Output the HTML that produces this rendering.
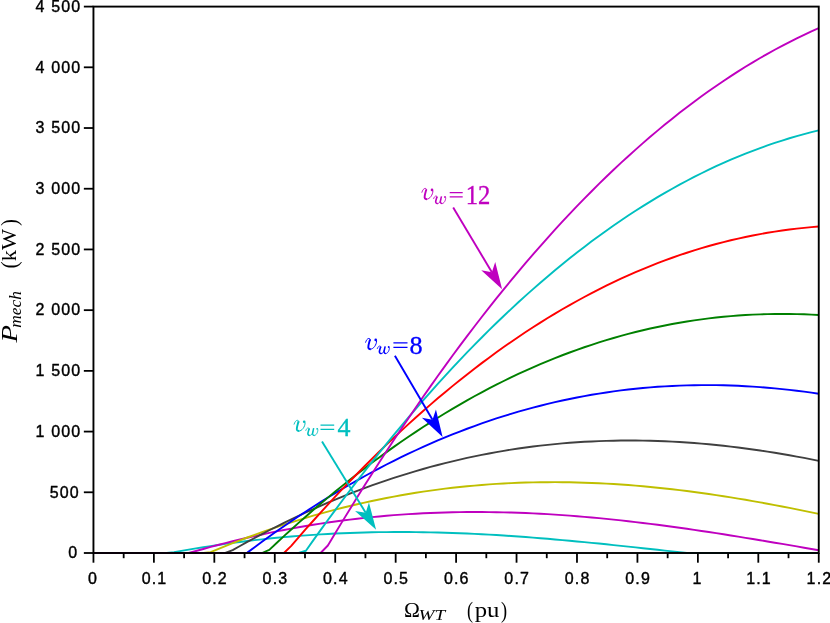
<!DOCTYPE html>
<html><head><meta charset="utf-8"><title>chart</title>
<style>html,body{margin:0;padding:0;background:#fff}svg{display:block;will-change:transform}text{font-family:"Liberation Sans",sans-serif}.s{font-family:"Liberation Serif",serif}</style></head>
<body>
<svg width="830" height="623" viewBox="0 0 830 623">
<rect width="830" height="623" fill="#fff"/>
<defs><g id="vw" fill="none" stroke="currentColor" stroke-linecap="round" stroke-linejoin="round"><path d="M0.2,4.2C0.8,2.1 2,0.3 3.5,0.3C4.6,0.3 5.1,1.1 4.9,2.5" stroke-width="0.9"/><path d="M4.6,1.3C4,4.1 2.7,7.2 2.9,9.2C3.1,10.5 4.1,11.1 5.3,11.1" stroke-width="1.9" stroke-linecap="butt"/><path d="M5.1,11.1C8,11.1 11.2,6.9 11.2,2.9" stroke-width="1.0"/><circle cx="10.3" cy="1.8" r="1.3" fill="currentColor" stroke="none"/><g transform="translate(11.8,7.6)"><path d="M0.1,2.9C0.5,1.6 1.4,0.3 2.5,0.3C3.3,0.3 3.7,0.9 3.6,1.8" stroke-width="0.8"/><path d="M3.5,0.9C3,3 2,5 2.2,6.4C2.4,7.5 3.2,7.9 4.1,7.9" stroke-width="1.6" stroke-linecap="butt"/><path d="M4,7.9C5.6,7.9 6.8,6.3 7.3,4.2" stroke-width="0.9"/><path d="M8,0.6C7.6,2.6 6.7,5 6.9,6.4C7.1,7.6 7.9,7.9 8.7,7.9" stroke-width="1.5" stroke-linecap="butt"/><path d="M8.6,7.9C10.6,7.9 12.2,4.8 12.2,2.2" stroke-width="0.9"/><circle cx="11.5" cy="1.25" r="0.95" fill="currentColor" stroke="none"/></g></g></defs>
<defs><clipPath id="c"><rect x="93.45" y="6.6" width="725.3" height="547.6"/></clipPath></defs>
<g clip-path="url(#c)" fill="none" stroke-linejoin="round" stroke-linecap="butt">
<polyline points="93.45,553.00 100.78,553.00 108.10,553.00 115.43,553.00 122.76,553.00 130.08,553.00 137.41,553.00 144.73,553.00 152.06,553.00 159.39,553.00 166.71,553.00 174.04,552.27 181.37,550.94 188.69,549.65 196.02,548.41 203.34,547.22 210.67,546.07 218.00,544.97 225.32,543.91 232.65,542.90 239.98,541.94 247.30,541.03 254.63,540.16 261.95,539.33 269.28,538.55 276.61,537.82 283.93,537.13 291.26,536.49 298.59,535.89 305.91,535.34 313.24,534.83 320.56,534.36 327.89,533.94 335.22,533.56 342.54,533.22 349.87,532.93 357.20,532.68 364.52,532.47 371.85,532.30 379.17,532.17 386.50,532.08 393.83,532.03 401.15,532.01 408.48,532.04 415.81,532.10 423.13,532.20 430.46,532.34 437.78,532.51 445.11,532.72 452.44,532.96 459.76,533.23 467.09,533.54 474.42,533.88 481.74,534.24 489.07,534.64 496.39,535.07 503.72,535.53 511.05,536.01 518.37,536.52 525.70,537.05 533.03,537.61 540.35,538.20 547.68,538.80 555.00,539.43 562.33,540.08 569.66,540.74 576.98,541.43 584.31,542.13 591.64,542.84 598.96,543.57 606.29,544.32 613.61,545.08 620.94,545.84 628.27,546.62 635.59,547.41 642.92,548.20 650.25,549.00 657.57,549.80 664.90,550.60 672.22,551.41 679.55,552.22 686.88,553.00 694.20,553.00 701.53,553.00 708.86,553.00 716.18,553.00 723.51,553.00 730.83,553.00 738.16,553.00 745.49,553.00 752.81,553.00 760.14,553.00 767.47,553.00 774.79,553.00 782.12,553.00 789.44,553.00 796.77,553.00 804.10,553.00 811.42,553.00 818.75,553.00" stroke="#00bfbf" stroke-width="1.9"/>
<polyline points="93.45,553.00 100.78,553.00 108.10,553.00 115.43,553.00 122.76,553.00 130.08,553.00 137.41,553.00 144.73,553.00 152.06,553.00 159.39,553.00 166.71,553.00 174.04,553.00 181.37,553.00 188.69,553.00 196.02,551.04 203.34,548.97 210.67,546.95 218.00,544.99 225.32,543.09 232.65,541.25 239.98,539.46 247.30,537.73 254.63,536.06 261.95,534.45 269.28,532.90 276.61,531.40 283.93,529.96 291.26,528.58 298.59,527.26 305.91,525.99 313.24,524.78 320.56,523.63 327.89,522.53 335.22,521.49 342.54,520.51 349.87,519.58 357.20,518.71 364.52,517.89 371.85,517.13 379.17,516.43 386.50,515.77 393.83,515.17 401.15,514.63 408.48,514.14 415.81,513.70 423.13,513.31 430.46,512.97 437.78,512.69 445.11,512.45 452.44,512.27 459.76,512.13 467.09,512.05 474.42,512.01 481.74,512.02 489.07,512.08 496.39,512.18 503.72,512.34 511.05,512.53 518.37,512.77 525.70,513.06 533.03,513.39 540.35,513.76 547.68,514.17 555.00,514.62 562.33,515.11 569.66,515.65 576.98,516.22 584.31,516.83 591.64,517.47 598.96,518.16 606.29,518.87 613.61,519.62 620.94,520.41 628.27,521.22 635.59,522.07 642.92,522.95 650.25,523.86 657.57,524.79 664.90,525.75 672.22,526.74 679.55,527.76 686.88,528.79 694.20,529.86 701.53,530.94 708.86,532.04 716.18,533.16 723.51,534.30 730.83,535.46 738.16,536.63 745.49,537.82 752.81,539.02 760.14,540.23 767.47,541.46 774.79,542.69 782.12,543.93 789.44,545.18 796.77,546.43 804.10,547.69 811.42,548.95 818.75,550.21" stroke="#bf00bf" stroke-width="1.9"/>
<polyline points="93.45,553.00 100.78,553.00 108.10,553.00 115.43,553.00 122.76,553.00 130.08,553.00 137.41,553.00 144.73,553.00 152.06,553.00 159.39,553.00 166.71,553.00 174.04,553.00 181.37,553.00 188.69,553.00 196.02,553.00 203.34,553.00 210.67,552.07 218.00,549.02 225.32,546.03 232.65,543.12 239.98,540.28 247.30,537.51 254.63,534.80 261.95,532.17 269.28,529.60 276.61,527.11 283.93,524.68 291.26,522.33 298.59,520.04 305.91,517.83 313.24,515.68 320.56,513.60 327.89,511.59 335.22,509.65 342.54,507.78 349.87,505.98 357.20,504.24 364.52,502.57 371.85,500.98 379.17,499.45 386.50,497.98 393.83,496.59 401.15,495.26 408.48,493.99 415.81,492.80 423.13,491.67 430.46,490.60 437.78,489.61 445.11,488.67 452.44,487.80 459.76,487.00 467.09,486.26 474.42,485.58 481.74,484.96 489.07,484.41 496.39,483.92 503.72,483.49 511.05,483.12 518.37,482.82 525.70,482.57 533.03,482.38 540.35,482.25 547.68,482.18 555.00,482.17 562.33,482.21 569.66,482.31 576.98,482.47 584.31,482.68 591.64,482.95 598.96,483.27 606.29,483.64 613.61,484.07 620.94,484.55 628.27,485.07 635.59,485.65 642.92,486.28 650.25,486.96 657.57,487.68 664.90,488.46 672.22,489.27 679.55,490.14 686.88,491.05 694.20,492.00 701.53,492.99 708.86,494.03 716.18,495.11 723.51,496.22 730.83,497.38 738.16,498.57 745.49,499.80 752.81,501.07 760.14,502.38 767.47,503.71 774.79,505.08 782.12,506.48 789.44,507.92 796.77,509.38 804.10,510.87 811.42,512.39 818.75,513.94" stroke="#bfbf00" stroke-width="1.9"/>
<polyline points="93.45,553.00 100.78,553.00 108.10,553.00 115.43,553.00 122.76,553.00 130.08,553.00 137.41,553.00 144.73,553.00 152.06,553.00 159.39,553.00 166.71,553.00 174.04,553.00 181.37,553.00 188.69,553.00 196.02,553.00 203.34,553.00 210.67,553.00 218.00,553.00 225.32,553.00 232.65,550.12 239.98,545.99 247.30,541.94 254.63,537.97 261.95,534.08 269.28,530.27 276.61,526.54 283.93,522.90 291.26,519.33 298.59,515.85 305.91,512.45 313.24,509.12 320.56,505.88 327.89,502.73 335.22,499.65 342.54,496.65 349.87,493.73 357.20,490.90 364.52,488.14 371.85,485.47 379.17,482.87 386.50,480.36 393.83,477.93 401.15,475.57 408.48,473.30 415.81,471.10 423.13,468.99 430.46,466.95 437.78,464.99 445.11,463.11 452.44,461.31 459.76,459.58 467.09,457.93 474.42,456.36 481.74,454.87 489.07,453.45 496.39,452.11 503.72,450.85 511.05,449.66 518.37,448.54 525.70,447.51 533.03,446.54 540.35,445.65 547.68,444.83 555.00,444.08 562.33,443.41 569.66,442.81 576.98,442.28 584.31,441.82 591.64,441.43 598.96,441.11 606.29,440.86 613.61,440.68 620.94,440.57 628.27,440.52 635.59,440.54 642.92,440.63 650.25,440.78 657.57,441.00 664.90,441.29 672.22,441.63 679.55,442.04 686.88,442.51 694.20,443.05 701.53,443.64 708.86,444.30 716.18,445.01 723.51,445.79 730.83,446.62 738.16,447.50 745.49,448.45 752.81,449.45 760.14,450.51 767.47,451.61 774.79,452.78 782.12,453.99 789.44,455.26 796.77,456.57 804.10,457.94 811.42,459.35 818.75,460.82" stroke="#404040" stroke-width="1.9"/>
<polyline points="93.45,553.00 100.78,553.00 108.10,553.00 115.43,553.00 122.76,553.00 130.08,553.00 137.41,553.00 144.73,553.00 152.06,553.00 159.39,553.00 166.71,553.00 174.04,553.00 181.37,553.00 188.69,553.00 196.02,553.00 203.34,553.00 210.67,553.00 218.00,553.00 225.32,553.00 232.65,553.00 239.98,553.00 247.30,552.62 254.63,547.15 261.95,541.77 269.28,536.49 276.61,531.30 283.93,526.20 291.26,521.19 298.59,516.27 305.91,511.45 313.24,506.72 320.56,502.09 327.89,497.54 335.22,493.09 342.54,488.73 349.87,484.47 357.20,480.30 364.52,476.22 371.85,472.23 379.17,468.34 386.50,464.53 393.83,460.82 401.15,457.21 408.48,453.68 415.81,450.24 423.13,446.90 430.46,443.65 437.78,440.49 445.11,437.42 452.44,434.44 459.76,431.56 467.09,428.76 474.42,426.05 481.74,423.44 489.07,420.91 496.39,418.47 503.72,416.13 511.05,413.87 518.37,411.70 525.70,409.62 533.03,407.62 540.35,405.72 547.68,403.90 555.00,402.16 562.33,400.52 569.66,398.96 576.98,397.48 584.31,396.10 591.64,394.79 598.96,393.57 606.29,392.44 613.61,391.39 620.94,390.42 628.27,389.53 635.59,388.73 642.92,388.01 650.25,387.37 657.57,386.81 664.90,386.33 672.22,385.93 679.55,385.61 686.88,385.37 694.20,385.20 701.53,385.12 708.86,385.10 716.18,385.17 723.51,385.31 730.83,385.53 738.16,385.82 745.49,386.18 752.81,386.62 760.14,387.13 767.47,387.71 774.79,388.36 782.12,389.09 789.44,389.88 796.77,390.74 804.10,391.67 811.42,392.66 818.75,393.72" stroke="#0000ff" stroke-width="1.9"/>
<polyline points="93.45,553.00 100.78,553.00 108.10,553.00 115.43,553.00 122.76,553.00 130.08,553.00 137.41,553.00 144.73,553.00 152.06,553.00 159.39,553.00 166.71,553.00 174.04,553.00 181.37,553.00 188.69,553.00 196.02,553.00 203.34,553.00 210.67,553.00 218.00,553.00 225.32,553.00 232.65,553.00 239.98,553.00 247.30,553.00 254.63,553.00 261.95,553.00 269.28,549.85 276.61,542.96 283.93,536.17 291.26,529.49 298.59,522.91 305.91,516.44 313.24,510.07 320.56,503.80 327.89,497.64 335.22,491.58 342.54,485.63 349.87,479.78 357.20,474.04 364.52,468.40 371.85,462.86 379.17,457.43 386.50,452.11 393.83,446.89 401.15,441.77 408.48,436.75 415.81,431.84 423.13,427.04 430.46,422.34 437.78,417.74 445.11,413.24 452.44,408.85 459.76,404.56 467.09,400.38 474.42,396.29 481.74,392.31 489.07,388.44 496.39,384.66 503.72,380.99 511.05,377.42 518.37,373.95 525.70,370.58 533.03,367.31 540.35,364.15 547.68,361.08 555.00,358.12 562.33,355.25 569.66,352.49 576.98,349.82 584.31,347.25 591.64,344.78 598.96,342.41 606.29,340.14 613.61,337.97 620.94,335.89 628.27,333.91 635.59,332.03 642.92,330.24 650.25,328.55 657.57,326.95 664.90,325.45 672.22,324.04 679.55,322.73 686.88,321.51 694.20,320.39 701.53,319.35 708.86,318.41 716.18,317.56 723.51,316.80 730.83,316.13 738.16,315.55 745.49,315.06 752.81,314.66 760.14,314.35 767.47,314.13 774.79,313.99 782.12,313.94 789.44,313.97 796.77,314.10 804.10,314.30 811.42,314.59 818.75,314.96" stroke="#008000" stroke-width="1.9"/>
<polyline points="93.45,553.00 100.78,553.00 108.10,553.00 115.43,553.00 122.76,553.00 130.08,553.00 137.41,553.00 144.73,553.00 152.06,553.00 159.39,553.00 166.71,553.00 174.04,553.00 181.37,553.00 188.69,553.00 196.02,553.00 203.34,553.00 210.67,553.00 218.00,553.00 225.32,553.00 232.65,553.00 239.98,553.00 247.30,553.00 254.63,553.00 261.95,553.00 269.28,553.00 276.61,553.00 283.93,553.00 291.26,545.83 298.59,537.36 305.91,528.99 313.24,520.75 320.56,512.62 327.89,504.61 335.22,496.71 342.54,488.93 349.87,481.27 357.20,473.72 364.52,466.29 371.85,458.97 379.17,451.77 386.50,444.69 393.83,437.72 401.15,430.86 408.48,424.13 415.81,417.51 423.13,411.00 430.46,404.61 437.78,398.34 445.11,392.18 452.44,386.14 459.76,380.21 467.09,374.40 474.42,368.71 481.74,363.12 489.07,357.66 496.39,352.31 503.72,347.07 511.05,341.95 518.37,336.94 525.70,332.04 533.03,327.26 540.35,322.60 547.68,318.04 555.00,313.60 562.33,309.27 569.66,305.06 576.98,300.96 584.31,296.97 591.64,293.09 598.96,289.32 606.29,285.67 613.61,282.13 620.94,278.69 628.27,275.37 635.59,272.16 642.92,269.06 650.25,266.07 657.57,263.18 664.90,260.41 672.22,257.74 679.55,255.18 686.88,252.73 694.20,250.39 701.53,248.15 708.86,246.02 716.18,244.00 723.51,242.08 730.83,240.27 738.16,238.56 745.49,236.96 752.81,235.46 760.14,234.06 767.47,232.77 774.79,231.58 782.12,230.49 789.44,229.50 796.77,228.61 804.10,227.83 811.42,227.14 818.75,226.55" stroke="#ff0000" stroke-width="1.9"/>
<polyline points="93.45,553.00 100.78,553.00 108.10,553.00 115.43,553.00 122.76,553.00 130.08,553.00 137.41,553.00 144.73,553.00 152.06,553.00 159.39,553.00 166.71,553.00 174.04,553.00 181.37,553.00 188.69,553.00 196.02,553.00 203.34,553.00 210.67,553.00 218.00,553.00 225.32,553.00 232.65,553.00 239.98,553.00 247.30,553.00 254.63,553.00 261.95,553.00 269.28,553.00 276.61,553.00 283.93,553.00 291.26,553.00 298.59,553.00 305.91,550.72 313.24,540.37 320.56,530.14 327.89,520.05 335.22,510.08 342.54,500.23 349.87,490.52 357.20,480.93 364.52,471.47 371.85,462.14 379.17,452.94 386.50,443.86 393.83,434.91 401.15,426.09 408.48,417.40 415.81,408.83 423.13,400.39 430.46,392.08 437.78,383.90 445.11,375.85 452.44,367.92 459.76,360.12 467.09,352.44 474.42,344.90 481.74,337.48 489.07,330.19 496.39,323.02 503.72,315.98 511.05,309.07 518.37,302.29 525.70,295.63 533.03,289.10 540.35,282.69 547.68,276.41 555.00,270.25 562.33,264.23 569.66,258.32 576.98,252.54 584.31,246.89 591.64,241.36 598.96,235.96 606.29,230.68 613.61,225.52 620.94,220.49 628.27,215.58 635.59,210.80 642.92,206.14 650.25,201.60 657.57,197.18 664.90,192.89 672.22,188.72 679.55,184.67 686.88,180.74 694.20,176.93 701.53,173.24 708.86,169.68 716.18,166.23 723.51,162.90 730.83,159.69 738.16,156.61 745.49,153.63 752.81,150.78 760.14,148.05 767.47,145.43 774.79,142.93 782.12,140.54 789.44,138.28 796.77,136.12 804.10,134.08 811.42,132.16 818.75,130.35" stroke="#00bfbf" stroke-width="1.9"/>
<polyline points="93.45,553.00 100.78,553.00 108.10,553.00 115.43,553.00 122.76,553.00 130.08,553.00 137.41,553.00 144.73,553.00 152.06,553.00 159.39,553.00 166.71,553.00 174.04,553.00 181.37,553.00 188.69,553.00 196.02,553.00 203.34,553.00 210.67,553.00 218.00,553.00 225.32,553.00 232.65,553.00 239.98,553.00 247.30,553.00 254.63,553.00 261.95,553.00 269.28,553.00 276.61,553.00 283.93,553.00 291.26,553.00 298.59,553.00 305.91,553.00 313.24,553.00 320.56,553.00 327.89,545.54 335.22,533.26 342.54,521.13 349.87,509.13 357.20,497.27 364.52,485.55 371.85,473.97 379.17,462.53 386.50,451.23 393.83,440.07 401.15,429.05 408.48,418.16 415.81,407.42 423.13,396.81 430.46,386.35 437.78,376.02 445.11,365.83 452.44,355.78 459.76,345.87 467.09,336.10 474.42,326.47 481.74,316.98 489.07,307.63 496.39,298.41 503.72,289.34 511.05,280.40 518.37,271.60 525.70,262.95 533.03,254.42 540.35,246.04 547.68,237.80 555.00,229.69 562.33,221.72 569.66,213.89 576.98,206.20 584.31,198.65 591.64,191.23 598.96,183.95 606.29,176.80 613.61,169.80 620.94,162.93 628.27,156.19 635.59,149.59 642.92,143.13 650.25,136.81 657.57,130.62 664.90,124.56 672.22,118.64 679.55,112.85 686.88,107.20 694.20,101.69 701.53,96.30 708.86,91.05 716.18,85.94 723.51,80.96 730.83,76.10 738.16,71.39 745.49,66.80 752.81,62.35 760.14,58.03 767.47,53.83 774.79,49.77 782.12,45.84 789.44,42.04 796.77,38.37 804.10,34.83 811.42,31.42 818.75,28.13" stroke="#bf00bf" stroke-width="1.9"/>
</g>
<g stroke="#000" stroke-width="1.8" fill="none">
<line x1="93.45" y1="553.0" x2="93.45" y2="562.7"/>
<line x1="153.89" y1="553.0" x2="153.89" y2="562.7"/>
<line x1="214.33" y1="553.0" x2="214.33" y2="562.7"/>
<line x1="274.78" y1="553.0" x2="274.78" y2="562.7"/>
<line x1="335.22" y1="553.0" x2="335.22" y2="562.7"/>
<line x1="395.66" y1="553.0" x2="395.66" y2="562.7"/>
<line x1="456.10" y1="553.0" x2="456.10" y2="562.7"/>
<line x1="516.54" y1="553.0" x2="516.54" y2="562.7"/>
<line x1="576.98" y1="553.0" x2="576.98" y2="562.7"/>
<line x1="637.43" y1="553.0" x2="637.43" y2="562.7"/>
<line x1="697.87" y1="553.0" x2="697.87" y2="562.7"/>
<line x1="758.31" y1="553.0" x2="758.31" y2="562.7"/>
<line x1="818.75" y1="553.0" x2="818.75" y2="562.7"/>
<line x1="123.67" y1="553.0" x2="123.67" y2="558.2"/>
<line x1="184.11" y1="553.0" x2="184.11" y2="558.2"/>
<line x1="244.55" y1="553.0" x2="244.55" y2="558.2"/>
<line x1="305.00" y1="553.0" x2="305.00" y2="558.2"/>
<line x1="365.44" y1="553.0" x2="365.44" y2="558.2"/>
<line x1="425.88" y1="553.0" x2="425.88" y2="558.2"/>
<line x1="486.32" y1="553.0" x2="486.32" y2="558.2"/>
<line x1="546.76" y1="553.0" x2="546.76" y2="558.2"/>
<line x1="607.20" y1="553.0" x2="607.20" y2="558.2"/>
<line x1="667.65" y1="553.0" x2="667.65" y2="558.2"/>
<line x1="728.09" y1="553.0" x2="728.09" y2="558.2"/>
<line x1="788.53" y1="553.0" x2="788.53" y2="558.2"/>
<line x1="93.45" y1="553.00" x2="83.85000000000001" y2="553.00"/>
<line x1="93.45" y1="492.29" x2="83.85000000000001" y2="492.29"/>
<line x1="93.45" y1="431.58" x2="83.85000000000001" y2="431.58"/>
<line x1="93.45" y1="370.87" x2="83.85000000000001" y2="370.87"/>
<line x1="93.45" y1="310.16" x2="83.85000000000001" y2="310.16"/>
<line x1="93.45" y1="249.44" x2="83.85000000000001" y2="249.44"/>
<line x1="93.45" y1="188.73" x2="83.85000000000001" y2="188.73"/>
<line x1="93.45" y1="128.02" x2="83.85000000000001" y2="128.02"/>
<line x1="93.45" y1="67.31" x2="83.85000000000001" y2="67.31"/>
<line x1="93.45" y1="6.60" x2="83.85000000000001" y2="6.60"/>
</g>
<rect x="93.45" y="6.6" width="725.3" height="546.4" fill="none" stroke="#000" stroke-width="1.9"/>
<g font-size="16.0" letter-spacing="1.15" fill="#000" stroke="#000" stroke-width="0.4" stroke-linejoin="round">
<text x="78.2" y="558.30" text-anchor="end">0</text>
<text x="79.8" y="497.59" text-anchor="end">500</text>
<text x="81.4" y="436.88" text-anchor="end">1 000</text>
<text x="81.4" y="376.17" text-anchor="end">1 500</text>
<text x="81.4" y="315.46" text-anchor="end">2 000</text>
<text x="81.4" y="254.74" text-anchor="end">2 500</text>
<text x="81.4" y="194.03" text-anchor="end">3 000</text>
<text x="81.4" y="133.32" text-anchor="end">3 500</text>
<text x="81.4" y="72.61" text-anchor="end">4 000</text>
<text x="81.4" y="11.90" text-anchor="end">4 500</text>
<text x="93.12" y="583.8" text-anchor="middle">0</text>
<text x="154.57" y="583.8" text-anchor="middle">0.1</text>
<text x="215.01" y="583.8" text-anchor="middle">0.2</text>
<text x="275.45" y="583.8" text-anchor="middle">0.3</text>
<text x="335.89" y="583.8" text-anchor="middle">0.4</text>
<text x="396.33" y="583.8" text-anchor="middle">0.5</text>
<text x="456.78" y="583.8" text-anchor="middle">0.6</text>
<text x="517.22" y="583.8" text-anchor="middle">0.7</text>
<text x="577.66" y="583.8" text-anchor="middle">0.8</text>
<text x="638.10" y="583.8" text-anchor="middle">0.9</text>
<text x="697.54" y="583.8" text-anchor="middle">1</text>
<text x="758.98" y="583.8" text-anchor="middle">1.1</text>
<text x="819.43" y="583.8" text-anchor="middle">1.2</text>
</g>
<text class="s" transform="translate(403.93,616.60) scale(1.0718,1.0243)" font-size="20" fill="#000">Ω</text>
<text class="s" transform="translate(418.58,620.14) scale(1.3740,1.0211)" font-size="14" font-style="italic" fill="#000">WT</text>
<text class="s" transform="translate(466.91,617.61) scale(0.8976,1.1507)" font-size="20" fill="#000">(</text>
<text class="s" transform="translate(474.74,617.37) scale(1.2364,1.0182)" font-size="20" fill="#000">pu</text>
<text class="s" transform="translate(501.03,617.61) scale(0.9171,1.1507)" font-size="20" fill="#000">)</text>
<text class="s" transform="translate(17.00,342.42) rotate(-90) scale(1.4400,1.1886)" font-size="20" font-style="italic" fill="#000">P</text>
<text class="s" transform="translate(20.85,327.72) rotate(-90) scale(1.2421,1.1848)" font-size="14" font-style="italic" fill="#000">mech</text>
<text class="s" transform="translate(17.09,268.44) rotate(-90) scale(1.0732,1.1781)" font-size="20" fill="#000">(</text>
<text class="s" transform="translate(16.24,261.22) rotate(-90) scale(1.1193,1.0456)" font-size="20" fill="#000">kW</text>
<text class="s" transform="translate(17.09,226.06) rotate(-90) scale(1.0537,1.1781)" font-size="20" fill="#000">)</text>
<text class="s" transform="translate(465.67,203.80) scale(0.9475,1.0277)" font-size="26" fill="#bf00bf" stroke="#bf00bf" stroke-width="0.35">12</text>
<text class="s" transform="translate(409.39,353.85) scale(1.0091,1.0057)" font-size="26" fill="#0000ff" stroke="#0000ff" stroke-width="0.35">8</text>
<text class="s" transform="translate(337.50,436.00) scale(0.9979,1.0044)" font-size="26" fill="#00bfbf" stroke="#00bfbf" stroke-width="0.35">4</text>
<use href="#vw" x="421.7" y="188.1" color="#bf00bf"/>
<use href="#vw" x="365.4" y="338.1" color="#0000ff"/>
<use href="#vw" x="293.9" y="420.0" color="#00bfbf"/>
<g fill="#bf00bf" stroke="none">
<path d="M449.7 192.5H462.7M449.7 196.8H462.7" stroke="#bf00bf" stroke-width="1.25" fill="none"/>
<line x1="453.2" y1="207.6" x2="491.88" y2="272.22" stroke="#bf00bf" stroke-width="1.9"/>
<path d="M502.1 289.3L481.24 270.32L491.88 272.22L495.23 261.95Z"/>
</g>
<g fill="#0000ff" stroke="none">
<path d="M393.4 342.9H407.5M393.4 347.3H407.5" stroke="#0000ff" stroke-width="1.25" fill="none"/>
<line x1="394.9" y1="355.8" x2="432.51" y2="419.75" stroke="#0000ff" stroke-width="1.9"/>
<path d="M442.6 436.9L421.89 417.76L432.51 419.75L435.94 409.50Z"/>
</g>
<g fill="#00bfbf" stroke="none">
<path d="M320.5 425.2H334.2M320.5 429.4H334.2" stroke="#00bfbf" stroke-width="1.25" fill="none"/>
<line x1="322.0" y1="441.4" x2="365.70" y2="512.73" stroke="#00bfbf" stroke-width="1.9"/>
<path d="M376.1 529.7L355.05 510.94L365.70 512.73L368.94 502.42Z"/>
</g>
</svg>
</body></html>
